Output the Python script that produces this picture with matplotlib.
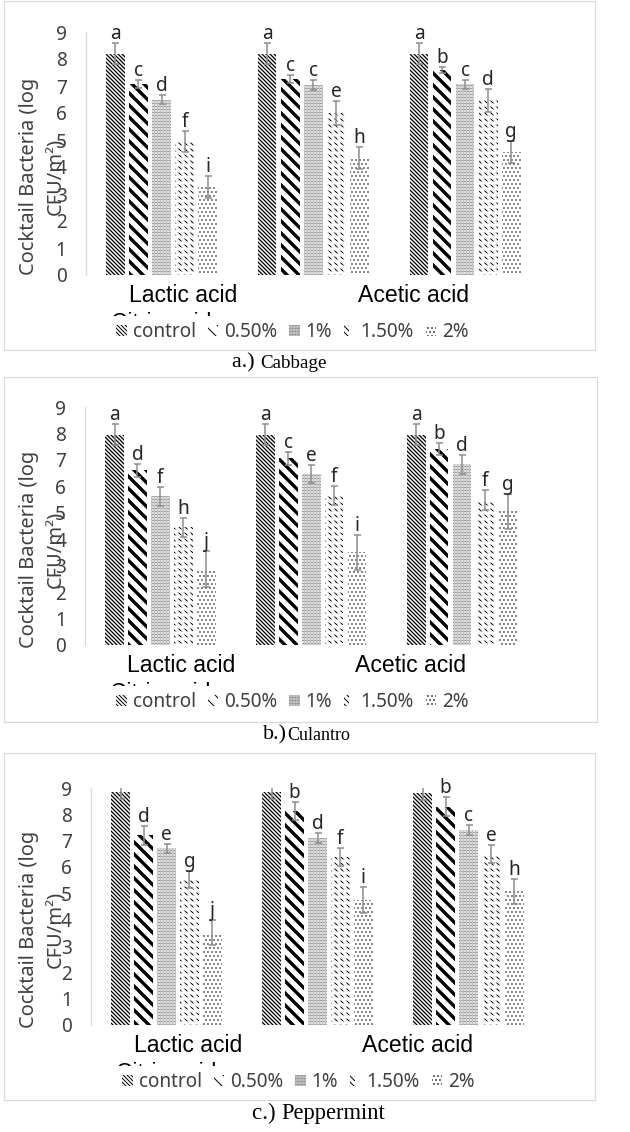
import matplotlib
matplotlib.use('Agg')
import matplotlib.pyplot as plt
import numpy as np
from matplotlib.patches import Rectangle
from matplotlib.transforms import Bbox, TransformedBbox
from matplotlib.legend_handler import HandlerTuple

W, H = 630, 1132

# data
acids = ['Lactic acid', 'Citric acid', 'Acetic acid']
concentrations = ['control', '0.50%', '1%', '1.50%', '2%']

# cabbage
cab_lactic = [8.2, 7.08, 6.5, 4.95, 3.25]
cab_lactic_err = [0.4, 0.15, 0.18, 0.4, 0.4]
cab_citric = [8.2, 7.25, 7.05, 6.0, 4.33]
cab_citric_err = [0.4, 0.15, 0.18, 0.43, 0.42]
cab_acetic = [8.2, 7.6, 7.06, 6.47, 4.55]
cab_acetic_err = [0.4, 0.1, 0.16, 0.42, 0.42]
cab_letters = [['a', 'c', 'd', 'f', 'i'], ['a', 'c', 'c', 'e', 'h'], ['a', 'b', 'c', 'd', 'g']]

# culantro
cul_lactic = [7.95, 6.6, 5.63, 4.45, 2.87]
cul_lactic_err = [0.4, 0.23, 0.36, 0.35, 0.67]
cul_citric = [7.95, 7.06, 6.47, 5.65, 3.5]
cul_citric_err = [0.4, 0.25, 0.35, 0.36, 0.67]
cul_acetic = [7.95, 7.42, 6.83, 5.5, 5.05]
cul_acetic_err = [0.4, 0.23, 0.36, 0.38, 0.67]
cul_letters = [['a', 'd', 'f', 'h', 'j'], ['a', 'c', 'e', 'f', 'i'], ['a', 'b', 'd', 'f', 'g']]

# peppermint
pep_lactic = [8.85, 7.2, 6.71, 5.53, 3.5]
pep_lactic_err = [0.28, 0.36, 0.18, 0.32, 0.47]
pep_citric = [8.85, 8.12, 7.09, 6.38, 4.75]
pep_citric_err = [0.28, 0.35, 0.19, 0.33, 0.48]
pep_acetic = [8.82, 8.29, 7.41, 6.5, 5.07]
pep_acetic_err = [0.28, 0.36, 0.19, 0.34, 0.47]
pep_letters = [['a', 'd', 'e', 'g', 'j'], ['a', 'b', 'd', 'f', 'i'], ['a', 'b', 'c', 'e', 'h']]

yticks = list(range(10))

# pattern per concentration (hatch, colour, hatch linewidth)
patterns = [('\\' * 6, 'black', 1.3),
            ('\\' * 2, 'black', 3.4),
            ('.' * 8, '#555555', 0.7),
            ('\\' * 4, 'black', 1.0),
            ('.' * 3, '#303030', 0.8)]

TXT = '#404040'
SANS = ['Noto Sans', 'DejaVu Sans']


def fx(px):
    return px / W


def fy(py):
    return 1 - py / H


fig = plt.figure(figsize=(W / 72, H / 72), dpi=72)


def make_bars(ax, x, h, width, hatch, color, hlw, **kw):
    with plt.rc_context({'hatch.linewidth': hlw}):
        bars = ax.bar(x, h, width, color='white', edgecolor=color, linewidth=0,
                      hatch=hatch, **kw)
        for b in bars:
            if hasattr(b, 'set_hatch_linewidth'):
                b.set_hatch_linewidth(hlw)
    return bars


def panel(box, plot, means, errs, letters, legend_xy, caption):
    # outer frame
    x0, y0, x1, y1 = box
    fig.add_artist(Rectangle((fx(x0), fy(y1)), (x1 - x0) / W, (y1 - y0) / H,
                             transform=fig.transFigure, fill=False,
                             edgecolor='#d9d9d9', linewidth=1.2))

    left, right, top, bottom = plot
    ax = fig.add_axes([fx(left), fy(bottom), (right - left) / W, (bottom - top) / H])
    ax.set_xlim(-0.5, 2.5)
    ax.set_ylim(0, 9)
    ax.set_facecolor('none')

    pitch = 0.152
    width = 0.123
    xs = np.arange(len(acids))
    handles = []
    for j, conc in enumerate(concentrations):
        hatch, color, hlw = patterns[j]
        h = [means[i][j] for i in range(len(acids))]
        e = [errs[i][j] for i in range(len(acids))]
        x = xs + (j - 2) * pitch
        bars = make_bars(ax, x, h, width, hatch, color, hlw, label=conc)
        if j == 3:
            # break the lines into short dashes
            over = make_bars(ax, x, h, width, '--', 'white', 3.2)
            for b in over:
                b.set_facecolor('none')
            handles.append((bars[0], over[0]))
        else:
            handles.append(bars[0])
        ax.errorbar(x, h, yerr=e, fmt='none', ecolor='#8c8c8c', elinewidth=1.5,
                    capsize=3.5, capthick=1.5, zorder=4)
        for i in range(len(acids)):
            ax.annotate(letters[i][j], (x[i], h[i] + e[i]), xytext=(0, -1),
                        textcoords='offset points', ha='center', va='bottom',
                        fontsize=19, family=SANS, color='#262626', zorder=6)

    for s in ['top', 'right', 'bottom']:
        ax.spines[s].set_visible(False)
    ax.spines['left'].set_color('#d9d9d9')
    ax.spines['left'].set_linewidth(1.2)
    ax.set_yticks(yticks)
    ax.set_yticklabels([str(t) for t in yticks], family=SANS, fontsize=19, color=TXT)
    ax.tick_params(axis='y', length=0, pad=19)
    ax.set_xticks([])

    # category labels (as Excel placed them)
    xt = ax.get_xaxis_transform()
    lab_y = -21 / (bottom - top)
    ax.text(0.14, lab_y, acids[0], transform=xt, ha='center', va='center',
            fontsize=23, family='Liberation Sans', color='black')
    ax.text(1.66, lab_y, acids[2], transform=xt, ha='center', va='center',
            fontsize=23, family='Liberation Sans', color='black')
    cut = ax.text(0.0, -37 / (bottom - top), acids[1], transform=xt, ha='center',
                  va='top', fontsize=23, family='Liberation Sans', color='black')
    cut.set_clip_box(TransformedBbox(Bbox([[0, fy(bottom + 41)], [1, fy(bottom + 36)]]),
                                     fig.transFigure))
    cut.set_clip_on(True)

    # y label, two lines as in the source
    ymid = (top + bottom) / 2 + 23
    fig.text(fx(29), fy(ymid), 'Cocktail Bacteria (log', rotation=90, ha='center',
             va='center', fontsize=20, family=SANS, color=TXT)
    fig.text(fx(56), fy(ymid), 'CFU/m²)', rotation=90, ha='center',
             va='center', fontsize=20, family=SANS, color=TXT)

    ax.legend(handles, concentrations, loc='center', ncol=5,
              bbox_to_anchor=(fx(legend_xy[0]), fy(legend_xy[1])),
              bbox_transform=fig.transFigure, prop={'family': SANS, 'size': 19},
              labelcolor=TXT, handlelength=0.55, handleheight=0.55,
              handletextpad=0.32, columnspacing=0.62, borderpad=0.15,
              frameon=False, handler_map={tuple: HandlerTuple(ndivide=None, pad=0)})

    # caption under the frame
    cx, cy, head, name, s1, s2 = caption
    t1 = fig.text(fx(cx), fy(cy), head, ha='left', va='center', fontsize=s1,
                  family='Liberation Serif', color='black')
    fig.canvas.draw()
    bb = t1.get_window_extent()
    fig.text(bb.x1 / W, fy(cy), name, ha='left', va='center', fontsize=s2,
             family='Liberation Serif', color='black')
    return ax


panel((4, 1, 595, 350), (85.6, 541, 32, 275),
      [cab_lactic, cab_citric, cab_acetic],
      [cab_lactic_err, cab_citric_err, cab_acetic_err],
      cab_letters, (292.5, 332), (232, 363, 'a.) ', 'Cabbage', 22, 19))

panel((4, 377, 597, 722), (85, 537.5, 407, 645),
      [cul_lactic, cul_citric, cul_acetic],
      [cul_lactic_err, cul_citric_err, cul_acetic_err],
      cul_letters, (292.5, 702), (263, 735, 'b.)', 'Culantro', 22, 18))

panel((4, 753, 595, 1100), (91, 544, 788, 1025),
      [pep_lactic, pep_citric, pep_acetic],
      [pep_lactic_err, pep_citric_err, pep_acetic_err],
      pep_letters, (298.5, 1082), (252, 1113, 'c.) ', 'Peppermint', 23, 22.5))

fig.savefig('out.png', dpi=72, facecolor='white')
